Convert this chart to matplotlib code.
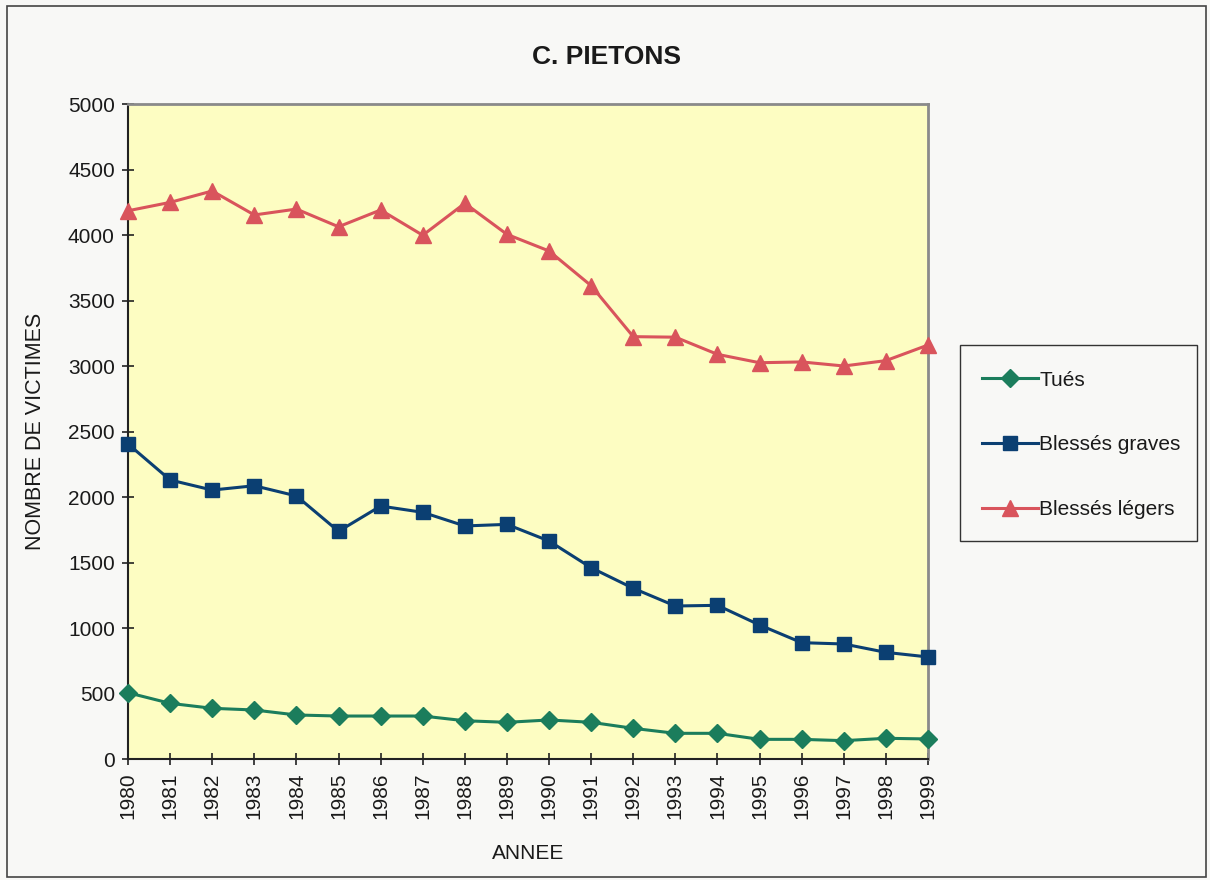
import matplotlib
matplotlib.use("Agg")
import matplotlib.pyplot as plt
from matplotlib.patches import Rectangle

years = list(range(1980, 2000))
tues = [506, 425, 387, 374, 336, 328, 328, 328, 292, 280,
        298, 280, 234, 196, 196, 150, 150, 140, 158, 153]
blesses_graves = [2405, 2130, 2053, 2086, 2008, 1738, 1931, 1883, 1779, 1791,
                  1664, 1460, 1303, 1168, 1173, 1023, 888, 878, 814, 779]
blesses_legers = [4185, 4249, 4336, 4153, 4198, 4063, 4191, 3998, 4242, 4005,
                  3878, 3613, 3224, 3220, 3089, 3025, 3031, 3000, 3041, 3160]
series_labels = ["Tués", "Blessés graves", "Blessés légers"]
y_ticks = [0, 500, 1000, 1500, 2000, 2500, 3000, 3500, 4000, 4500, 5000]

plt.rcParams['font.family'] = ['Liberation Sans', 'DejaVu Sans']

fig = plt.figure(figsize=(12.1, 8.8), dpi=100, facecolor="#f8f8f6")
fig.patches.append(Rectangle((7/1210, 1-877/880), 1199/1210, 871/880,
                             transform=fig.transFigure, fill=False,
                             edgecolor="#444444", linewidth=1.2))

ax = fig.add_axes([128/1210, 1-759/880, 800/1210, 655/880])
ax.set_facecolor("#fdfdc2")

ax.plot(years, tues, color="#1b7d5c", lw=2.2, marker="D", markersize=9.5,
        label=series_labels[0], clip_on=False, zorder=3)
ax.plot(years, blesses_graves, color="#0b3f72", lw=2.2, marker="s", markersize=10.5,
        label=series_labels[1], clip_on=False, zorder=3)
ax.plot(years, blesses_legers, color="#d9545c", lw=2.2, marker="^", markersize=12,
        label=series_labels[2], clip_on=False, zorder=3)

ax.set_xlim(1980, 1999)
ax.set_ylim(0, 5000)
ax.set_xticks(years)
ax.set_xticklabels([str(y) for y in years], rotation=90, fontsize=15)
ax.set_yticks(y_ticks)
ax.set_yticklabels([str(v) for v in y_ticks], fontsize=15)
ax.tick_params(axis="both", direction="inout", length=9, width=1.2, color="#222222",
               labelcolor="#1a1a1a")
ax.tick_params(axis="x", pad=5)
ax.tick_params(axis="y", pad=5)

for s in ["left", "bottom"]:
    ax.spines[s].set_color("#222222")
    ax.spines[s].set_linewidth(1.5)
for s in ["top", "right"]:
    ax.spines[s].set_color("#8a8a8a")
    ax.spines[s].set_linewidth(2)

ax.set_xlabel("ANNEE", fontsize=15, color="#1a1a1a", labelpad=18)
ax.set_ylabel("NOMBRE DE VICTIMES", fontsize=15.5, color="#1a1a1a", labelpad=16)

fig.text(607/1210, 1-57/880, "C. PIETONS", ha="center", va="center",
         fontsize=19, fontweight="bold", color="#1a1a1a")

leg = ax.legend(loc="center left", bbox_to_anchor=(960/1210, 1-543/880, 237/1210, 196/880),
                bbox_transform=fig.transFigure, mode="expand",
                fontsize=15, frameon=False,
                handlelength=2.7, handletextpad=0.05, labelspacing=2.2,
                borderpad=1.05, borderaxespad=0, markerscale=1.0)
for t in leg.get_texts():
    t.set_color("#1a1a1a")
fig.patches.append(Rectangle((960/1210, 1-541/880), 237/1210, 196/880,
                             transform=fig.transFigure, fill=False,
                             edgecolor="#333333", linewidth=1.0))

fig.savefig("out.png", dpi=100, facecolor=fig.get_facecolor())
